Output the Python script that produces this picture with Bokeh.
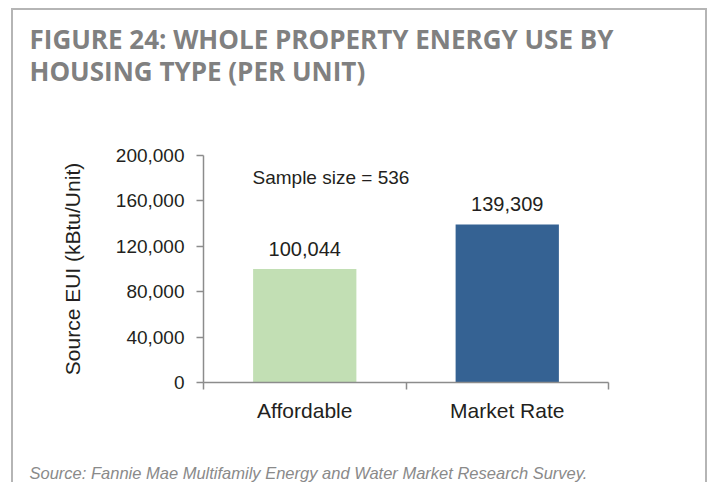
import numpy as np
from bokeh.plotting import figure
from bokeh.models import (Range1d, LinearAxis, FixedTicker, NumeralTickFormatter,
                          Label, Title, ColumnDataSource, InlineStyleSheet)
from bokeh.core.properties import value
from bokeh.embed import file_html
from bokeh.resources import INLINE

categories = ["Affordable", "Market Rate"]
values = [100044, 139309]
colors = ["#c2dfb4", "#356293"]
y_ticks = [0, 40000, 80000, 120000, 160000, 200000]
title_lines = ["FIGURE 24: WHOLE PROPERTY ENERGY USE BY", "HOUSING TYPE (PER UNIT)"]
y_label = "Source EUI (kBtu/Unit)"
note = "Sample size = 536"
source_text = "Source: Fannie Mae Multifamily Energy and Water Market Research Survey."

FONT = "Liberation Sans"
TXT = "#231f20"
AX = "#8c8c8c"

pos = np.arange(len(categories)) + 0.5
src = ColumnDataSource(dict(x=pos, top=values, color=colors,
                            label=[f"{v:,}" for v in values]))

p = figure(width=712, height=482, output_backend="svg", toolbar_location=None,
           x_range=Range1d(0, len(categories)), y_range=Range1d(0, 200000),
           x_axis_type=None, y_axis_type=None,
           min_border_left=203, min_border_right=104, min_border_top=0,
           min_border_bottom=0)
p.outline_line_color = None
p.grid.visible = False
p.background_fill_color = "white"
p.border_fill_color = "white"
p.stylesheets = [InlineStyleSheet(css="""
:host::after {
  content: ""; position: absolute; left: 11px; top: 8px; right: 5px; bottom: -4px;
  border: 2px solid #b5b5b5; border-bottom: none; pointer-events: none;
}
""")]


def spacer(size):
    # invisible axis used only to reserve vertical space
    ax = LinearAxis(ticker=FixedTicker(ticks=[1]), major_label_overrides={1: ""})
    ax.axis_line_color = None
    ax.major_tick_line_color = "white"
    ax.minor_tick_line_color = None
    ax.major_tick_out = size
    ax.major_tick_in = 0
    ax.major_label_standoff = 0
    ax.major_label_text_font_size = "4px"
    return ax


# space between title and plot frame, the two-line title, then top margin
p.add_layout(spacer(64), "above")
p.add_layout(Title(text="\n".join(title_lines), align="left", offset=-174, standoff=4,
                   text_font="Open Sans", text_font_size="26px", text_font_style="bold",
                   text_line_height=0.89, text_color="#808080"), "above")
p.add_layout(spacer(17), "above")

# y axis
ya = LinearAxis(ticker=FixedTicker(ticks=y_ticks),
                formatter=NumeralTickFormatter(format="0,0"))
ya.axis_line_color = AX
ya.axis_line_width = 1.5
ya.major_tick_line_color = AX
ya.major_tick_line_width = 1.5
ya.major_tick_out = 7
ya.major_tick_in = 0
ya.minor_tick_line_color = None
ya.major_label_text_font = FONT
ya.major_label_text_font_size = "19px"
ya.major_label_text_color = TXT
ya.major_label_standoff = 12
ya.axis_label = y_label
ya.axis_label_text_font = FONT
ya.axis_label_text_font_size = "21px"
ya.axis_label_text_font_style = "normal"
ya.axis_label_text_color = TXT
ya.axis_label_standoff = 29
p.add_layout(ya, "left")

# x axis with tick marks at category boundaries
bounds = list(range(len(categories) + 1))
xa = LinearAxis(ticker=FixedTicker(ticks=bounds),
                major_label_overrides={b: "" for b in bounds})
xa.axis_line_color = AX
xa.axis_line_width = 1.5
xa.major_tick_line_color = AX
xa.major_tick_line_width = 1.5
xa.major_tick_out = 7
xa.major_tick_in = 0
xa.minor_tick_line_color = None
xa.major_label_standoff = 0
xa.major_label_text_font_size = "4px"
p.add_layout(xa, "below")

# x axis with category labels
xb = LinearAxis(ticker=FixedTicker(ticks=list(pos)),
                major_label_overrides={float(x): c for x, c in zip(pos, categories)})
xb.axis_line_color = None
xb.major_tick_line_color = None
xb.minor_tick_line_color = None
xb.major_label_text_font = FONT
xb.major_label_text_font_size = "21px"
xb.major_label_text_color = TXT
xb.major_label_standoff = 3
p.add_layout(xb, "below")

p.add_layout(spacer(36), "below")
p.add_layout(Title(text=source_text, align="left", offset=-174, standoff=2,
                   text_font=FONT, text_font_size="16.5px", text_font_style="italic",
                   text_color="#8a8a8a"), "below")

p.vbar(x="x", top="top", width=0.51, color="color", line_color=None, source=src)
p.text(x="x", y="top", text="label", source=src, text_align="center",
       text_baseline="alphabetic", y_offset=-20, text_font=value(FONT),
       text_font_size="20px", text_color=TXT)

p.add_layout(Label(x=252, y=177, x_units="canvas", y_units="canvas", text=note,
                   text_font=FONT, text_font_size="19px", text_color=TXT,
                   text_baseline="alphabetic"))

open("out.html", "w").write(file_html(p, INLINE))
